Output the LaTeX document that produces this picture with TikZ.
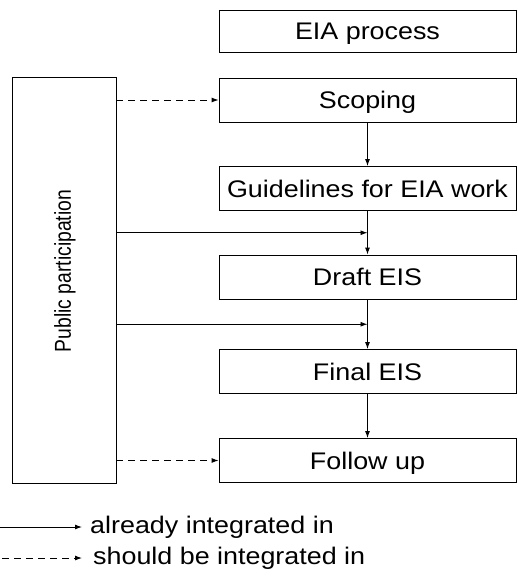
\documentclass[tikz,border=0pt]{standalone}
\usepackage{fontspec}
\setmainfont{Liberation Sans}[FakeStretch=1.12]
\newfontfamily\ppfont{Liberation Sans}[FakeStretch=0.84]
\usetikzlibrary{arrows.meta,calc}
\tikzset{
	stagebox/.style={draw, line width=0.9pt, minimum width=297pt, minimum height=44pt, inner sep=0pt, text depth=0pt, font=\fontsize{24}{28}\selectfont},
	sidebox/.style={draw, line width=0.9pt, minimum width=104pt, minimum height=406pt, inner sep=0pt},
	flow/.style={line width=0.9pt, -{Latex[length=7pt,width=5pt]}},
	todo/.style={flow, dash pattern=on 7pt off 5pt},
	legtext/.style={anchor=west, inner sep=0pt, font=\fontsize{24}{28}\selectfont}
}
\begin{document}
\begin{tikzpicture}[x=1pt,y=-1pt]
	\useasboundingbox (0,0) rectangle (517,577);
	% process boxes
	\node[stagebox, minimum height=42pt] (eia) at (367.5,31) {EIA process};
	\node[stagebox] (scop) at (367.5,100) {Scoping};
	\node[stagebox] (guide) at (367.5,188.5) {Guidelines for EIA work};
	\node[stagebox] (draft) at (367.5,277) {Draft EIS};
	\node[stagebox] (final) at (367.5,371.5) {Final EIS};
	\node[stagebox] (follow) at (367.5,460.5) {Follow up};
	% public participation
	\node[sidebox] (pp) at (64,280) {};
	\node[rotate=90, inner sep=0pt, font=\ppfont\fontsize{23}{28}\selectfont] (pplabel) at (65,271) {Public participation};
	% vertical flow
	\draw[flow] (scop.south) -- (guide.north);
	\draw[flow] (guide.south) -- (draft.north);
	\draw[flow] (draft.south) -- (final.north);
	\draw[flow] (final.south) -- (follow.north);
	% inputs from public participation
	\coordinate (j1) at ($(guide.south)!0.5!(draft.north)$);
	\coordinate (j2) at ($(draft.south)!0.5!(final.north)$);
	\draw[todo] (pp.east |- scop.west) -- (scop.west);
	\draw[flow] (pp.east |- j1) -- (j1);
	\draw[flow] (pp.east |- j2) -- (j2);
	\draw[todo] (pp.east |- follow.west) -- (follow.west);
	% legend
	\node[legtext] (leg1) at (90,527) {already integrated in};
	\node[legtext] (leg2) at (93,558) {should be integrated in};
	\coordinate (l1) at (0,527);
	\coordinate (l2) at (2,558);
	\draw[flow] (l1) -- ([xshift=-8pt]leg1.west);
	\draw[todo] (l2) -- ([xshift=-11pt]leg2.west);
\end{tikzpicture}
\end{document}
